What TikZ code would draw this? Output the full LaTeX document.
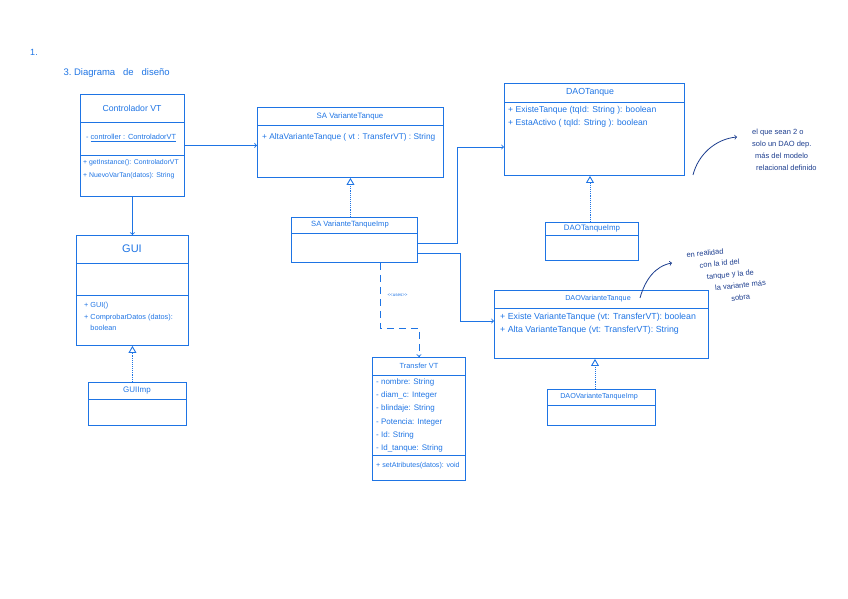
\documentclass[tikz,border=0pt]{standalone}
\usepackage{fontspec}
\setmainfont{Liberation Sans}
\usetikzlibrary{arrows,calc,positioning}
\definecolor{ink}{HTML}{1E74E4}
\definecolor{navy}{HTML}{1C3D8E}

\begin{document}
\begin{tikzpicture}[x=1pt, y=-1pt,
  cls/.style={rectangle, draw=ink, line width=0.9pt, anchor=north west, inner sep=0},
  sep/.style={draw=ink, line width=0.9pt},
  title/.style={text=ink, font=\fontsize{7.8}{9}\selectfont},
  mem/.style={text=ink, anchor=north west, inner sep=0, align=left, font=\fontsize{8}{13}\selectfont},
  arr/.style={->, draw=ink, line width=0.9pt},
  impl/.style={-open triangle 60, draw=ink, line width=0.9pt, densely dotted},
  uses/.style={->, draw=ink, line width=0.9pt, dash pattern=on 7pt off 5pt},
  note/.style={text=navy, anchor=north west, inner sep=0, align=left, font=\fontsize{7.5}{12}\selectfont},
  notearr/.style={->, draw=navy, line width=0.8pt},
]
\useasboundingbox (0,0) rectangle (848,599);

\node[text=ink, font=\fontsize{9}{10}\selectfont] (num) at (34,52) {1.};
\node[text=ink, font=\fontsize{9.5}{11}\selectfont, anchor=west] (hd) at (60,73) {3.~Diagrama~~~de~~~diseño};

% Controlador VT
\node[cls, minimum width=104pt, minimum height=102pt] (ctrl) at (80,94) {};
\draw[sep] (ctrl.west |- 0,122) -- (ctrl.east |- 0,122);
\draw[sep] (ctrl.west |- 0,155) -- (ctrl.east |- 0,155);
\node[title, font=\fontsize{8.7}{10}\selectfont] (ctrlt) at (132,108) {Controlador VT};
\node[mem, font=\fontsize{7.4}{13}\selectfont] (ctrla) at (86,134) {- \underline{controller : ControladorVT}};
\node[mem, font=\fontsize{6.9}{13}\selectfont] (ctrlm) at (83,159) {+ getInstance(): ControladorVT\\+ NuevoVarTan(datos): String};

% GUI
\node[cls, minimum width=112pt, minimum height=110pt] (gui) at (76,235) {};
\draw[sep] (gui.west |- 0,263) -- (gui.east |- 0,263);
\draw[sep] (gui.west |- 0,295) -- (gui.east |- 0,295);
\node[title, font=\fontsize{11}{12}\selectfont] (guit) at (132,249) {GUI};
\node[mem, font=\fontsize{7.3}{11.5}\selectfont] (guim) at (84,302.5) {+ GUI()\\+ ComprobarDatos (datos):\\\phantom{+ }boolean};

\node[cls, minimum width=98pt, minimum height=43pt] (guiimp) at (88,382) {};
\draw[sep] (guiimp.west |- 0,399) -- (guiimp.east |- 0,399);
\node[title, font=\fontsize{8}{9}\selectfont] (guiimpt) at (137,391) {GUIImp};

% SA
\node[cls, minimum width=186pt, minimum height=70pt] (sa) at (257,107) {};
\draw[sep] (sa.west |- 0,125) -- (sa.east |- 0,125);
\node[title] (sat) at (350,116) {SA VarianteTanque};
\node[mem, font=\fontsize{8.3}{13}\selectfont] (sam) at (262,133) {+ AltaVarianteTanque ( vt : TransferVT) : String};

\node[cls, minimum width=126pt, minimum height=45pt] (saimp) at (291,217) {};
\draw[sep] (saimp.west |- 0,233) -- (saimp.east |- 0,233);
\node[title, font=\fontsize{7.6}{9}\selectfont] (saimpt) at (350,225) {SA VarianteTanqueImp};

% Transfer VT
\node[cls, minimum width=93pt, minimum height=123pt] (tvt) at (372,357) {};
\draw[sep] (tvt.west |- 0,375) -- (tvt.east |- 0,375);
\draw[sep] (tvt.west |- 0,455) -- (tvt.east |- 0,455);
\node[title, font=\fontsize{7.4}{9}\selectfont] (tvtt) at (419,366) {Transfer VT};
\node[mem, font=\fontsize{8}{13.2}\selectfont] (tvta) at (376,378.5) {- nombre: String\\- diam\_c: Integer\\- blindaje: String\\- Potencia: Integer\\- Id: String\\- Id\_tanque: String};
\node[mem, font=\fontsize{7.1}{13}\selectfont] (tvtm) at (376,462) {+ setAtributes(datos): void};

% DAO Tanque
\node[cls, minimum width=180pt, minimum height=92pt] (dt) at (504,83) {};
\draw[sep] (dt.west |- 0,102) -- (dt.east |- 0,102);
\node[title, font=\fontsize{8.8}{10}\selectfont] (dtt) at (590,92) {DAOTanque};
\node[mem, font=\fontsize{8.6}{13}\selectfont] (dtm) at (508,106) {+ ExisteTanque (tqId: String ): boolean\\+ EstaActivo ( tqId: String ): boolean};

\node[cls, minimum width=93pt, minimum height=38pt] (dtimp) at (545,222) {};
\draw[sep] (dtimp.west |- 0,235) -- (dtimp.east |- 0,235);
\node[title, font=\fontsize{7.9}{9}\selectfont] (dtimpt) at (592,229) {DAOTanqueImp};

% DAO VarianteTanque
\node[cls, minimum width=214pt, minimum height=68pt] (dvt) at (494,290) {};
\draw[sep] (dvt.west |- 0,308) -- (dvt.east |- 0,308);
\node[title, font=\fontsize{7.2}{9}\selectfont] (dvtt) at (598,299) {DAOVarianteTanque};
\node[mem, font=\fontsize{8.8}{13}\selectfont] (dvtm) at (500,313) {+ Existe VarianteTanque (vt: TransferVT): boolean\\+ Alta VarianteTanque (vt: TransferVT): String};

\node[cls, minimum width=108pt, minimum height=36pt] (dvtimp) at (547,389) {};
\draw[sep] (dvtimp.west |- 0,405) -- (dvtimp.east |- 0,405);
\node[title, font=\fontsize{7.2}{9}\selectfont] (dvtimpt) at (599,397) {DAOVarianteTanqueImp};

% connectors
\draw[arr] (ctrl.east) -- (ctrl.east -| sa.west);
\draw[arr] (ctrl.south) -- (gui.north);
\draw[impl] (guiimp.north -| gui.south) -- (gui.south);
\draw[impl] (saimp.north -| sa.south) -- (sa.south);
\draw[arr] (saimp.east |- 0,243) -- (457,243) -- (457,147) -- (dt.west |- 0,147);
\draw[arr] (saimp.east |- 0,253) -- (460,253) -- (460,321) -- (dvt.west |- 0,321);
\draw[uses] (saimp.south -| 380,0) -- (380,328) -| (tvt.north);
\node[text=ink, font=\fontsize{4.5}{5}\selectfont, anchor=west] (usesl) at (384,295) {{<}{<}uses{>}{>}};
\draw[impl] (dtimp.north -| 590,0) -- (dt.south -| 590,0);
\draw[impl] (dvtimp.north -| 595,0) -- (dvt.south -| 595,0);

% notes
\node[note] (note1) at (752,129) {el que sean 2 o\\solo un DAO dep.\\\hspace*{3pt}más del modelo\\\hspace*{4pt}relacional definido};
\coordinate (n1s) at (693,175);
\draw[notearr] (n1s) .. controls (698,155) and (715,139) .. ([xshift=-15pt,yshift=-8pt]note1.north west);

\node[note, rotate=6, font=\fontsize{7.5}{12}\selectfont] (note2) at (686,252) {en realidad\\\hspace*{12pt}con la id del\\\hspace*{18pt}tanque y la de\\\hspace*{25pt}la variante más\\\hspace*{40pt}sobra};
\coordinate (n2s) at (640,298);
\draw[notearr] (n2s) .. controls (645,280) and (655,266) .. ([xshift=-14pt,yshift=-11pt]note2.north west);

\end{tikzpicture}
\end{document}
